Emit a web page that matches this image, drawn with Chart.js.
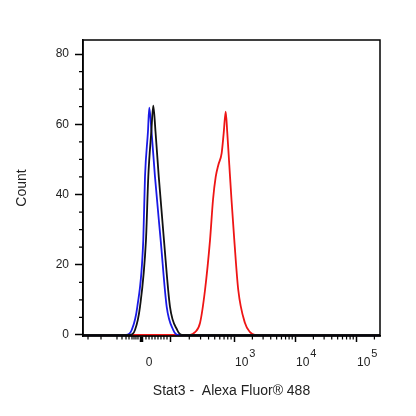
<!DOCTYPE html>
<html>
<head>
<meta charset="utf-8">
<script src="https://cdn.jsdelivr.net/npm/chart.js@4"></script>
<style>
html,body{margin:0;padding:0;background:#fff;}
#wrap{width:416px;height:416px;position:relative;}
</style>
</head>
<body>
<div id="wrap"><canvas id="c"></canvas></div>
<script>
// Axis range (display units: 10^3 = 3, 10^4 = 4, 10^5 = 5)
const xMin = 0.525, xMax = 5.393;
const yMin = -0.3, yMax = 84;

// Tick values and labels
const xTickValues = [1.492, 1.951, 3, 4, 5];
const xTickBase = ['0', '', '10', '10', '10'];
const xTickExp  = ['', '', '3', '4', '5'];
const xMinorTicks = [0.607, 0.820, 1.082, 1.164, 1.230, 1.279, 1.328, 1.361, 1.393, 1.426,
  1.557, 1.607, 1.656, 1.705, 1.754, 1.803, 1.852, 1.902,
  2.267, 2.452, 2.583, 2.684, 2.767, 2.837, 2.898, 2.952,
  3.301, 3.477, 3.602, 3.699, 3.778, 3.845, 3.903, 3.954,
  4.301, 4.477, 4.602, 4.699, 4.778, 4.845, 4.903, 4.954,
  5.301];
const yTickValues = [0, 20, 40, 60, 80];
const yMinorTicks = [5, 10, 15, 25, 30, 35, 45, 50, 55, 65, 70, 75];

// Series
const blueX  = [0.525, 1.230, 1.323, 1.415, 1.513, 1.541, 1.590, 1.611, 1.648, 1.705, 1.798, 1.897, 2.005, 2.082, 5.393];
const blueY  = [0, 0, 1.4, 8, 27, 45, 58, 64.7, 58, 45, 27, 8, 1.4, 0, 0];
const blackX = [0.525, 1.295, 1.377, 1.459, 1.557, 1.595, 1.645, 1.677, 1.713, 1.767, 1.852, 1.951, 2.070, 2.148, 5.393];
const blackY = [0, 0, 1.4, 8, 27, 45, 58, 65.3, 58, 45, 27, 8, 1.4, 0, 0];
const redX   = [0.525, 2.279, 2.361, 2.443, 2.525, 2.607, 2.656, 2.700, 2.743, 2.798, 2.831, 2.864, 2.890, 2.923, 2.959, 3.005, 3.070, 3.180, 3.262, 3.344, 5.393];
const redY   = [0, 0, 0.8, 3.4, 12.8, 27, 38.5, 45, 48.4, 51.8, 57.5, 63.6, 57.5, 48.4, 38.5, 27, 12.8, 3.4, 0.8, 0, 0];

const toPts = (xs, ys) => xs.map((x, i) => ({x: x, y: ys[i]}));
const FONT = '"Liberation Sans", Arial, sans-serif';

const framePlugin = {
  id: 'frameAndMinor',
  afterDraw(chart) {
    const {ctx, chartArea: a, scales} = chart;
    ctx.save();
    ctx.strokeStyle = '#000';
    ctx.lineWidth = 1.5;
    ctx.strokeRect(a.left, a.top, a.right - a.left, a.bottom - a.top);
    ctx.lineWidth = 1.2;
    ctx.beginPath();
    xMinorTicks.forEach(v => {
      const px = scales.x.getPixelForValue(v);
      ctx.moveTo(px, a.bottom);
      ctx.lineTo(px, a.bottom + 3.5);
    });
    yMinorTicks.forEach(v => {
      const py = scales.y.getPixelForValue(v);
      ctx.moveTo(a.left, py);
      ctx.lineTo(a.left - 4, py);
    });
    ctx.stroke();
    // x tick labels with raised exponents
    ctx.fillStyle = '#222';
    ctx.textBaseline = 'middle';
    scales.x.ticks.forEach((t, i) => {
      const px = scales.x.getPixelForValue(t.value);
      const base = xTickBase[i], exp = xTickExp[i];
      if (!base) return;
      ctx.font = '12px ' + FONT;
      if (!exp) {
        ctx.textAlign = 'center';
        ctx.fillText(base, px + 7, a.bottom + 27);
      } else {
        ctx.textAlign = 'left';
        ctx.fillText(base, px + 1, a.bottom + 27);
        const w = ctx.measureText(base).width;
        ctx.font = '11px ' + FONT;
        ctx.fillText(exp, px + 2 + w, a.bottom + 18);
      }
    });
    ctx.restore();
  }
};

new Chart(document.getElementById('c'), {
  type: 'line',
  data: {
    datasets: [
      {label: 'Isotype', data: toPts(blackX, blackY), borderColor: '#111111', borderWidth: 1.8, pointRadius: 0, cubicInterpolationMode: 'monotone', fill: false},
      {label: 'Unstained', data: toPts(blueX, blueY), borderColor: '#1a1ae6', borderWidth: 1.8, pointRadius: 0, cubicInterpolationMode: 'monotone', fill: false},
      {label: 'Stat3', data: toPts(redX, redY), borderColor: '#ee1515', borderWidth: 1.8, pointRadius: 0, cubicInterpolationMode: 'monotone', fill: false}
    ]
  },
  options: {
    responsive: true,
    maintainAspectRatio: false,
    animation: false,
    layout: {padding: {top: 40, right: 36, left: 0, bottom: 0}},
    plugins: {legend: {display: false}, tooltip: {enabled: false}},
    scales: {
      x: {
        type: 'linear', min: xMin, max: xMax,
        afterBuildTicks: ax => { ax.ticks = xTickValues.map(v => ({value: v})); },
        afterFit: ax => { ax.height = 80; },
        ticks: {display: false, maxRotation: 0, autoSkip: false},
        grid: {
          display: true, drawOnChartArea: false, tickLength: 6, color: '#000',
          tickWidth: ctx => (ctx.tick && ctx.tick.value === xTickValues[0]) ? 3.5 : 1.5
        },
        border: {display: true, color: '#000', width: 1.5},
        title: {display: true, text: 'Stat3 -  Alexa Fluor® 488', color: '#222',
          font: {family: FONT, size: 14}, padding: {top: 0, bottom: 16}}
      },
      y: {
        type: 'linear', min: yMin, max: yMax,
        afterBuildTicks: ax => { ax.ticks = yTickValues.map(v => ({value: v})); },
        afterFit: ax => { ax.width = 83; },
        ticks: {padding: 6, color: '#222', font: {family: FONT, size: 12}},
        grid: {display: true, drawOnChartArea: false, tickLength: 8, color: '#000', tickWidth: 1.5},
        border: {display: true, color: '#000', width: 1.5},
        title: {display: true, text: 'Count', color: '#222',
          font: {family: FONT, size: 14}, padding: {top: 14, bottom: 0}}
      }
    }
  },
  plugins: [framePlugin]
});
</script>
</body>
</html>
